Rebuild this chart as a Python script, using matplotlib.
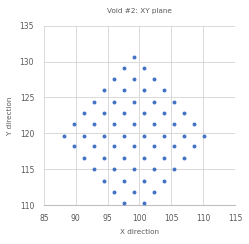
import matplotlib.pyplot as plt

# Void #2 grid points, one list of x values per row of constant y
row_y = [130.7, 129.1, 127.6, 126.0, 124.4, 122.8, 121.25, 119.7,
         118.2, 116.6, 115.0, 113.4, 111.85, 110.3]
row_x = [
    [99.1],
    [97.6, 100.7],
    [96.0, 99.1, 102.3],
    [94.4, 97.6, 100.7, 103.9],
    [92.9, 96.0, 99.1, 102.3, 105.4],
    [91.3, 94.4, 97.6, 100.7, 103.9, 107.0],
    [89.7, 92.9, 96.0, 99.1, 102.3, 105.4, 108.6],
    [88.2, 91.3, 94.4, 97.6, 100.7, 103.9, 107.0, 110.2],
    [89.7, 92.9, 96.0, 99.1, 102.3, 105.4, 108.6],
    [91.3, 94.4, 97.6, 100.7, 103.9, 107.0],
    [92.9, 96.0, 99.1, 102.3, 105.4],
    [94.4, 97.6, 100.7, 103.9],
    [96.0, 99.1, 102.3],
    [97.6, 100.7],
]
x_ticks = [85, 90, 95, 100, 105, 110, 115]
y_ticks = [110, 115, 120, 125, 130, 135]

xs = [x for xr in row_x for x in xr]
ys = [y for y, xr in zip(row_y, row_x) for _ in xr]

plt.rcParams['font.family'] = ['DejaVu Sans']
fig = plt.figure(figsize=(2.49, 2.44), dpi=100)
ax = fig.add_axes([0.176, 0.159, 0.768, 0.736])

ax.scatter(xs, ys, s=8, color='#4472C4', zorder=3, linewidths=0)

ax.set_xlim(85, 115)
ax.set_ylim(110, 135)
ax.set_xticks(x_ticks)
ax.set_yticks(y_ticks)
ax.grid(True, color='#D9D9D9', linewidth=0.7)
ax.set_axisbelow(True)
for side in ['top', 'right', 'left']:
    ax.spines[side].set_visible(False)
ax.spines['bottom'].set_color('#BFBFBF')
ax.spines['bottom'].set_linewidth(0.8)
ax.tick_params(length=0, labelsize=5.5, labelcolor='#595959')
ax.tick_params(axis='x', pad=6)
ax.tick_params(axis='y', pad=7)

ax.set_title('Void #2: XY plane', fontsize=5.2, color='#595959', pad=9)
ax.set_xlabel('X direction', fontsize=5.2, color='#595959', labelpad=5)
ax.set_ylabel('Y direction', fontsize=5.2, color='#595959', labelpad=5)

fig.savefig('out.png', dpi=100)
